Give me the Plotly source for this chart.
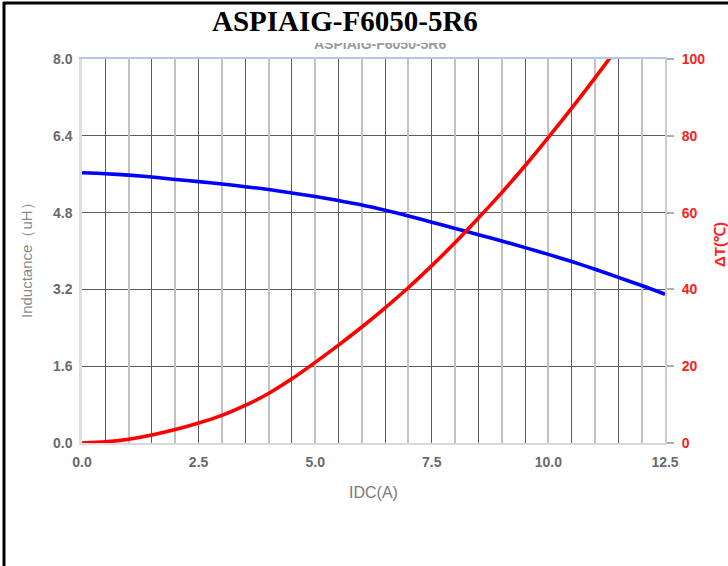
import plotly.graph_objects as go

# ---------------- data ----------------
idc_l = [0.0, 0.5, 1.0, 1.5, 2.0, 2.5, 3.0, 3.5, 4.0, 4.5, 5.0, 5.5, 6.0, 6.5,
         7.0, 7.5, 8.0, 8.5, 9.0, 9.5, 10.0, 10.5, 11.0, 11.5, 12.0, 12.5]
inductance = [5.63, 5.61, 5.58, 5.54, 5.49, 5.445, 5.395, 5.34, 5.28, 5.21, 5.135, 5.05,
              4.96, 4.85, 4.73, 4.60, 4.47, 4.34, 4.21, 4.07, 3.93, 3.78, 3.62, 3.45,
              3.28, 3.10]

idc_t = [0.0, 0.5, 1.0, 1.5, 2.0, 2.5, 3.0, 3.5, 4.0, 4.5, 5.0, 5.5, 6.0, 6.5,
         7.0, 7.5, 8.0, 8.5, 9.0, 9.5, 10.0, 10.5, 11.0, 11.5]
delta_t = [0.0, 0.3, 1.0, 2.1, 3.5, 5.2, 7.2, 9.8, 12.9, 16.7, 21.0, 25.5, 30.2, 35.2,
           40.5, 46.2, 52.2, 58.6, 65.2, 72.2, 79.6, 87.2, 95.1, 103.2]

title_text = "ASPIAIG-F6050-5R6"
x_title = "IDC(A)"
y_title = "Inductance（uH）"
y2_title = "ΔT(℃)"

# ---------------- figure ----------------
W, H = 728, 566
ML, MR, MT, MB = 82, 63, 59, 123
PW, PH = W - ML - MR, H - MT - MB


def px(xp):
    return (xp - ML) / PW


def py(yp):
    return (H - MB - yp) / PH


tick_font = dict(family="Liberation Sans, Arial", size=14, color="#6a6a6a", weight="bold")
red_font = dict(family="Liberation Sans, Arial", size=14, color="#ff2020", weight="bold")

fig = go.Figure()

# helper traces so the grid overlay axes render
fig.add_trace(go.Scatter(x=[], y=[], xaxis="x2", yaxis="y", showlegend=False, hoverinfo="skip"))
fig.add_trace(go.Scatter(x=[], y=[], xaxis="x3", yaxis="y", showlegend=False, hoverinfo="skip"))

fig.add_trace(go.Scatter(
    x=idc_l, y=inductance, mode="lines", xaxis="x", yaxis="y",
    line=dict(color="#0000ff", width=3.6, shape="spline", smoothing=0.8),
    showlegend=False, name="Inductance"))
fig.add_trace(go.Scatter(
    x=idc_t, y=delta_t, mode="lines", xaxis="x", yaxis="y2",
    line=dict(color="#ff0000", width=3.6, shape="spline", smoothing=0.8),
    showlegend=False, name="ΔT"))

fig.update_layout(
    width=W, height=H,
    margin=dict(l=ML, r=MR, t=MT, b=MB, pad=0),
    paper_bgcolor="white", plot_bgcolor="white",
    xaxis=dict(range=[0, 12.5], tick0=0, dtick=2.5, tickformat=".1f",
               showgrid=False, zeroline=False, showline=True,
               linecolor="#d9d9d9", linewidth=2, ticks="",
               tickfont=tick_font, ticklabelstandoff=5),
    xaxis2=dict(range=[0, 12.5], overlaying="x", side="top", anchor="y",
                tick0=0.5, dtick=1, showgrid=True, gridcolor="#5c5c5c", gridwidth=1.3,
                showticklabels=False, ticks="", zeroline=False,
                showline=True, linecolor="#b4c8e6", linewidth=1.5),
    xaxis3=dict(range=[0, 12.5], overlaying="x", side="bottom", anchor="y",
                tick0=0, dtick=1, showgrid=True, gridcolor="#c2c2c2", gridwidth=2.2,
                showticklabels=False, ticks="", zeroline=False, showline=False),
    yaxis=dict(range=[0, 8], tick0=0, dtick=1.6, tickformat=".1f",
               showgrid=True, gridcolor="#5c5c5c", gridwidth=1.3,
               zeroline=False, showline=True, linecolor="#dedede", linewidth=2.5,
               ticks="", tickfont=tick_font, ticklabelstandoff=4),
    yaxis2=dict(range=[0, 100], tick0=0, dtick=20, overlaying="y", side="right",
                anchor="x", showgrid=False, zeroline=False, showline=True,
                linecolor="#cccccc", linewidth=2, ticks="outside", ticklen=7,
                tickcolor="#b0b0b0", tickwidth=1.5, tickfont=red_font,
                ticklabelstandoff=5),
    showlegend=False,
)

annotations = [
    # faint duplicate title, its upper half hidden beneath the main title
    dict(text=title_text, x=px(380), y=py(44), xref="paper", yref="paper",
         showarrow=False, xanchor="center", yanchor="middle",
         font=dict(family="Liberation Sans, Arial", size=14, color="#9a9a9a", weight="bold")),
    dict(text=" ", x=px(380), y=py(36), xref="paper", yref="paper",
         showarrow=False, xanchor="center", yanchor="middle",
         width=190, height=13, bgcolor="white", borderpad=0, borderwidth=0,
         font=dict(size=4)),
    dict(text=title_text, x=px(345), y=py(21), xref="paper", yref="paper",
         showarrow=False, xanchor="center", yanchor="middle",
         font=dict(family="Liberation Serif, Times New Roman", size=29, color="#000000",
                   weight="bold")),
    dict(text=x_title, x=px(373), y=py(492), xref="paper", yref="paper",
         showarrow=False, xanchor="center", yanchor="middle",
         font=dict(family="Liberation Sans, Arial", size=16, color="#7a7a7a")),
    dict(text=y_title, x=px(27), y=py(256), xref="paper", yref="paper",
         showarrow=False, xanchor="center", yanchor="middle", textangle=-90,
         font=dict(family="Liberation Sans, Arial", size=15, color="#8a8a8a")),
    dict(text=y2_title, x=px(719), y=py(245), xref="paper", yref="paper",
         showarrow=False, xanchor="center", yanchor="middle", textangle=-90,
         font=dict(family="Liberation Sans, Arial", size=15, color="#ff2020", weight="bold")),
]
fig.update_layout(annotations=annotations)

# black frame (left and top edges of the screenshot)
fig.add_shape(type="line", xref="paper", yref="paper",
              x0=px(4), x1=px(4), y0=py(2), y1=py(600),
              line=dict(color="black", width=3))
fig.add_shape(type="line", xref="paper", yref="paper",
              x0=px(3), x1=px(740), y0=py(3), y1=py(3),
              line=dict(color="black", width=3))

fig.write_html("out.html",
               config={"displayModeBar": False},
               post_script="document.body.style.margin='0';document.body.style.overflow='hidden';")
